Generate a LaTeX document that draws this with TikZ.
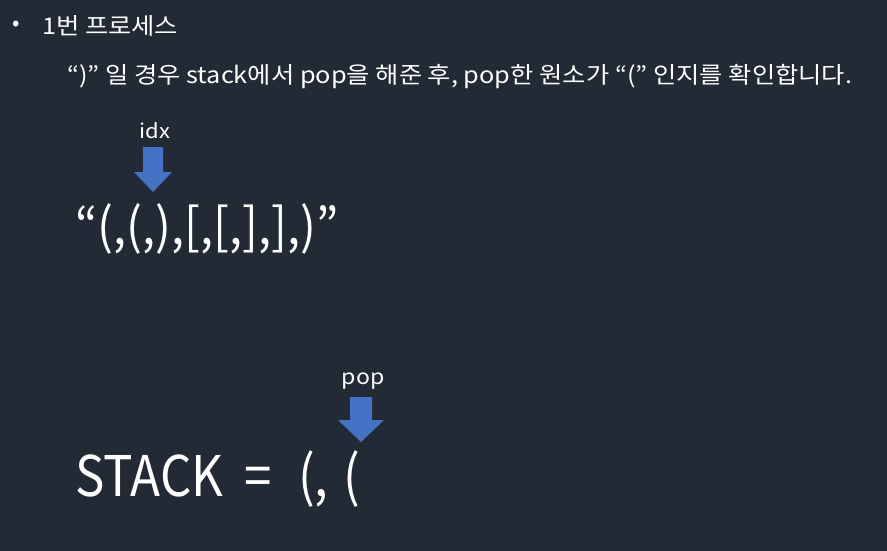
\documentclass[tikz,border=0pt]{standalone}
\usepackage{fontspec}
\setmainfont{Noto Sans CJK KR}
\newfontfamily\bodyfont[FakeStretch=1.1]{Noto Sans CJK KR}
\newfontfamily\bigfont[FakeStretch=0.88]{Noto Sans CJK KR}
\newfontfamily\seqfont[FakeStretch=0.94]{Noto Sans CJK KR}
\usetikzlibrary{positioning}
\definecolor{bgdark}{HTML}{222A35}
\definecolor{arrowblue}{HTML}{4472C4}

\begin{document}
\begin{tikzpicture}[x=1pt, y=-1pt,
    txt/.style={text=white, inner sep=0pt},
    body/.style={txt, anchor=base west, font=\bodyfont\fontsize{23}{26}\selectfont},
    big/.style={txt, anchor=base west, font=\bigfont\fontsize{56}{60}\selectfont},
    downarrow/.style={fill=arrowblue}]
    \fill[bgdark] (0,0) rectangle (887,551);
    \useasboundingbox (0,0) rectangle (887,551);
    % title
    \node[txt, font=\fontsize{22}{24}\selectfont] (bullet) at (16,26) {•};
    \node[body] (title) at (42,35) {1번 프로세스};
    \node[body] (rule) at (67,84)
        {“)” 일 경우 stack에서 pop을 해준 후, pop한 원소가 “(” 인지를 확인합니다.};
    % index pointer
    \node[txt, font=\bodyfont\fontsize{20}{22}\selectfont] (idx) at (155,131) {idx};
    \coordinate (idxtip) at (153,147);
    \fill[downarrow] (idxtip) ++(-10,0) -- ++(20,0) -- ++(0,25) -- ++(9,0)
        -- (153,192) -- (134,172) -- ++(9,0) -- cycle;
    \node[txt, anchor=base west, font=\seqfont\fontsize{50}{54}\selectfont] (brackets) at (75,244) {“(,(,),[,[,],],)”};
    % stack
    \node[txt, font=\bodyfont\fontsize{21}{24}\selectfont] (poplabel) at (363,381) {pop};
    \coordinate (poptip) at (361,397);
    \fill[downarrow] (poptip) ++(-11,0) -- ++(22,0) -- ++(0,23) -- ++(12,0)
        -- (361,442) -- (338,420) -- ++(12,0) -- cycle;
    \node[big] (stack) at (75,496) {STACK};
    \node[big] (equals) at (244,496) {=};
    \node[big] (first) at (298,496) {(,};
    \node[big] (second) at (343,496) {(};
\end{tikzpicture}
\end{document}
